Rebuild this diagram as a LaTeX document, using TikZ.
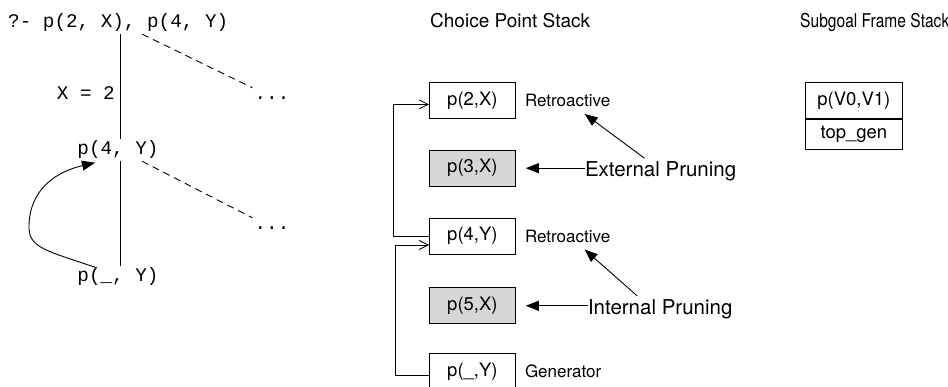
\documentclass[tikz,border=0pt]{standalone}
\usepackage{fontspec}
\setmainfont{TeX Gyre Heros}
\setmonofont{Liberation Mono}
\usepackage{graphicx}
\usepackage{tikz}
\usetikzlibrary{arrows.meta,positioning,calc}
\definecolor{pruned}{HTML}{D6D6D6}

\begin{document}
\begin{tikzpicture}[
  x=1pt, y=-1pt,
  node distance=31pt and 9pt,
  goal/.style={inner sep=2pt, font=\fontsize{19.3}{22}\selectfont\ttfamily},
  more/.style={goal, anchor=base, text height=10pt},
  title/.style={inner sep=0pt, font=\fontsize{19}{22}\selectfont},
  frame/.style={draw, line width=0.8pt, minimum width=86pt, minimum height=36pt, inner sep=0pt, font=\fontsize{18.5}{22}\selectfont},
  tag/.style={inner sep=0pt, font=\fontsize{17}{20}\selectfont},
  note/.style={inner sep=0pt, font=\fontsize{20.5}{24}\selectfont},
  tree/.style={line width=0.9pt},
  branch/.style={line width=0.9pt, dash pattern=on 7pt off 5pt},
  arr/.style={-{Triangle[length=13pt,width=10pt]}, line width=0.9pt},
  link/.style={-{Straight Barb[length=9pt,width=9pt]}, line width=0.8pt}
]
\useasboundingbox (0,0) rectangle (948,387);

\node[goal, anchor=base west] (query) at (6,28) {?- p(2, X), p(4, Y)};
\node[goal] (sub) at (118,150) {p(4, Y)};
\node[goal] (gen) at (118,277) {p(\_, Y)};
\node[more] (more1) at (272,100) {...};
\node[more] (more2) at (272,230) {...};
\node[goal, anchor=base east] (bind) at (117,100) {X = 2};
\draw[tree] ([xshift=2pt]sub.north) -- ([xshift=2pt]sub.north |- query.south);
\draw[tree] ([xshift=2pt]sub.south) -- ([xshift=2pt]gen.north);
\draw[branch] ([xshift=24pt]query.south) -- (more1.north west);
\draw[branch] ([xshift=24pt]sub.south) -- (more2.north west);
\draw[arr] ([xshift=-23pt,yshift=-1.5pt]gen.north) .. controls (45,250) and (28,248) .. (29,225)
  .. controls (30,190) and (55,172) .. ([xshift=-23pt,yshift=-1.5pt]sub.south);

\node[title, anchor=base west] (cptitle) at (430,28) {Choice Point Stack};
\node[frame, anchor=north west] (cp2) at (429,82) {p(2,X)};
\node[frame, fill=pruned, below=of cp2] (cp3) {p(3,X)};
\node[frame, below=of cp3] (cp4) {p(4,Y)};
\node[frame, fill=pruned, below=33pt of cp4] (cp5) {p(5,X)};
\node[frame, below=29pt of cp5] (cpgen) {p(\_,Y)};
\node[tag, right=of cp2] (rt2) {Retroactive};
\node[tag, right=of cp4] (rt4) {Retroactive};
\node[tag, right=of cpgen] (gtag) {Generator};
\node[note, right=69pt of cp3, yshift=-3pt] (extp) {External Pruning};
\node[note, right=72pt of cp5, yshift=-3pt] (intp) {Internal Pruning};
\draw[arr, shorten >=10pt] (cp3.east -| extp.west) -- (cp3.east);
\draw[arr, shorten >=10pt] (cp5.east -| intp.west) -- (cp5.east);
\draw[arr] ([xshift=-16pt,yshift=3pt]extp.north) -- ([xshift=17pt,yshift=-7pt]rt2.south);
\draw[arr] ([xshift=-23pt,yshift=3pt]intp.north) -- ([xshift=17pt,yshift=-7pt]rt4.south);
\draw[link] (cp4.west) -- ++(-36pt,0) |- ([yshift=-4pt]cp2.west);
\draw[link] ([yshift=-4pt]cpgen.west) -- ++(-34pt,0) |- ([yshift=-9pt]cp4.west);

\node[title, anchor=base west] (sgtitle) at (800,28) {\scalebox{0.82}[1]{Subgoal Frame Stack}};
\node[frame, minimum width=97pt, anchor=north west] (sgcall) at (805,82) {p(V0,V1)};
\node[frame, minimum width=97pt, minimum height=30pt, below=0pt of sgcall] (sggen) {top\_gen};
\end{tikzpicture}
\end{document}
